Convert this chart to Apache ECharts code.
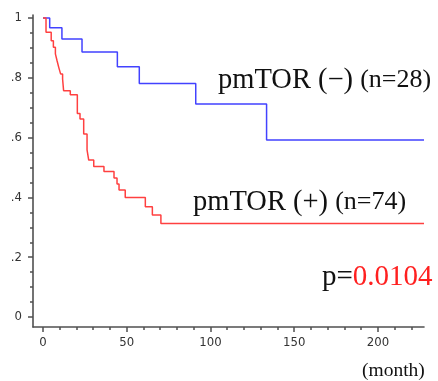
<!DOCTYPE html>
<html><head><meta charset="utf-8">
<script src="https://cdn.jsdelivr.net/npm/echarts@6/dist/echarts.min.js"></script>
<style>html,body{margin:0;padding:0;background:#fff}#c{width:438px;height:381px}</style>
</head><body><div id="c"></div>
<script>
// pmTOR (-) group, n=28: step times (months) and survival
const negTimes = [0, 4, 11.3, 23.3, 44.4, 57.5, 91.2, 133.5, 227.5];
const negSurv  = [1, 0.967, 0.930, 0.886, 0.837, 0.781, 0.712, 0.592, 0.592];
// pmTOR (+) group, n=74
const posTimes = [0, 1.8, 4.9, 6.2, 7.4, 8.4, 9.4, 10.5, 11.7, 12.3, 16.3, 20.5, 22.1, 24.3, 26.3, 27.3, 30.3, 36.4, 42.4, 44.2, 45.4, 49.1, 61.1, 65.3, 70.4, 227.5];
const posSurv  = [1, 0.952, 0.924, 0.902, 0.880, 0.857, 0.835, 0.813, 0.796, 0.757, 0.743, 0.681, 0.662, 0.612, 0.559, 0.525, 0.503, 0.487, 0.465, 0.445, 0.425, 0.400, 0.369, 0.341, 0.313, 0.313];
// axis ticks
const xTickValues = [0, 50, 100, 150, 200];
const xMinorTicks = [0, 10, 20, 30, 40, 50, 60, 70, 80, 90, 100, 110, 120, 130, 140, 150, 160, 170, 180, 190, 200, 210, 220];
const yTickValues = [0, 0.2, 0.4, 0.6, 0.8, 1];
const yTickLabels = ['0', '.2', '.4', '.6', '.8', '1'];
const yMinorTicks = [0, 0.05, 0.1, 0.15, 0.2, 0.25, 0.3, 0.35, 0.4, 0.45, 0.5, 0.55, 0.6, 0.65, 0.7, 0.75, 0.8, 0.85, 0.9, 0.95, 1];
// annotations
const negLabel = 'pmTOR (−)', negN = '(n=28)';
const posLabel = 'pmTOR (+)', posN = '(n=74)';
const pPrefix = 'p=', pValue = '0.0104';
const xUnit = '(month)';

const zip = (a, b) => a.map((v, i) => [v, b[i]]);
const axisColor = '#505050';
const tickFont = '"Liberation Sans Narrow", "DejaVu Sans Condensed", "Liberation Sans", sans-serif';
const serif = '"Liberation Serif", "Times New Roman", serif';
const xMin = -5.97, xMax = 227.5, yMin = -0.0334, yMax = 1.01;

const chart = echarts.init(document.getElementById('c'), null, {renderer: 'canvas'});
chart.setOption({
  animation: false,
  backgroundColor: '#fff',
  grid: {left: 33, right: 14, top: 15, bottom: 54},
  xAxis: [
    {type: 'value', min: xMin, max: xMax, position: 'bottom',
     axisLine: {show: true, onZero: false, lineStyle: {color: axisColor, width: 1.6}},
     axisTick: {show: true, customValues: xTickValues, length: 5, lineStyle: {color: axisColor, width: 1.5}},
     axisLabel: {customValues: xTickValues, color: '#333', fontFamily: tickFont, fontSize: 13, margin: 9},
     splitLine: {show: false}},
    {type: 'value', min: xMin, max: xMax, position: 'bottom',
     axisLine: {show: false, onZero: false},
     axisTick: {show: true, customValues: xMinorTicks, length: 3, lineStyle: {color: axisColor, width: 1.5}},
     axisLabel: {show: false}, splitLine: {show: false}}
  ],
  yAxis: [
    {type: 'value', min: yMin, max: yMax, position: 'left',
     axisLine: {show: true, onZero: false, lineStyle: {color: axisColor, width: 1.6}},
     axisTick: {show: true, customValues: yTickValues, length: 5, lineStyle: {color: axisColor, width: 1.5}},
     axisLabel: {customValues: yTickValues, color: '#333', fontFamily: tickFont, fontSize: 13, margin: 11,
                 formatter: v => yTickLabels[yTickValues.findIndex(t => Math.abs(t - v) < 1e-6)]},
     splitLine: {show: false}},
    {type: 'value', min: yMin, max: yMax, position: 'left',
     axisLine: {show: false, onZero: false},
     axisTick: {show: true, customValues: yMinorTicks, length: 3, lineStyle: {color: axisColor, width: 1.5}},
     axisLabel: {show: false}, splitLine: {show: false}}
  ],
  series: [
    {type: 'line', step: 'end', data: zip(negTimes, negSurv), showSymbol: false, silent: true,
     color: '#4242ff', lineStyle: {color: '#4242ff', width: 1.5}},
    {type: 'line', step: 'end', data: zip(posTimes, posSurv), showSymbol: false, silent: true,
     color: '#ff4040', lineStyle: {color: '#ff4040', width: 1.5}}
  ],
  graphic: [
    {type: 'text', left: 218, top: 66, silent: true,
     style: {text: '{a|' + negLabel + ' }{b|' + negN + '}', fill: '#111',
             rich: {a: {fontFamily: serif, fontSize: 28.5, fill: '#111'}, b: {fontFamily: serif, fontSize: 26, fill: '#111'}}}},
    {type: 'text', left: 193, top: 188, silent: true,
     style: {text: '{a|' + posLabel + ' }{b|' + posN + '}', fill: '#111',
             rich: {a: {fontFamily: serif, fontSize: 28.5, fill: '#111'}, b: {fontFamily: serif, fontSize: 26, fill: '#111'}}}},
    {type: 'text', left: 322, top: 263, silent: true,
     style: {text: '{a|' + pPrefix + '}{b|' + pValue + '}',
             rich: {a: {fontFamily: serif, fontSize: 29, fill: '#111'}, b: {fontFamily: serif, fontSize: 29, fill: '#ff2020'}}}},
    {type: 'text', left: 362, top: 361, silent: true,
     style: {text: xUnit, fontFamily: serif, fontSize: 19.5, fill: '#111'}}
  ]
});
</script></body></html>
